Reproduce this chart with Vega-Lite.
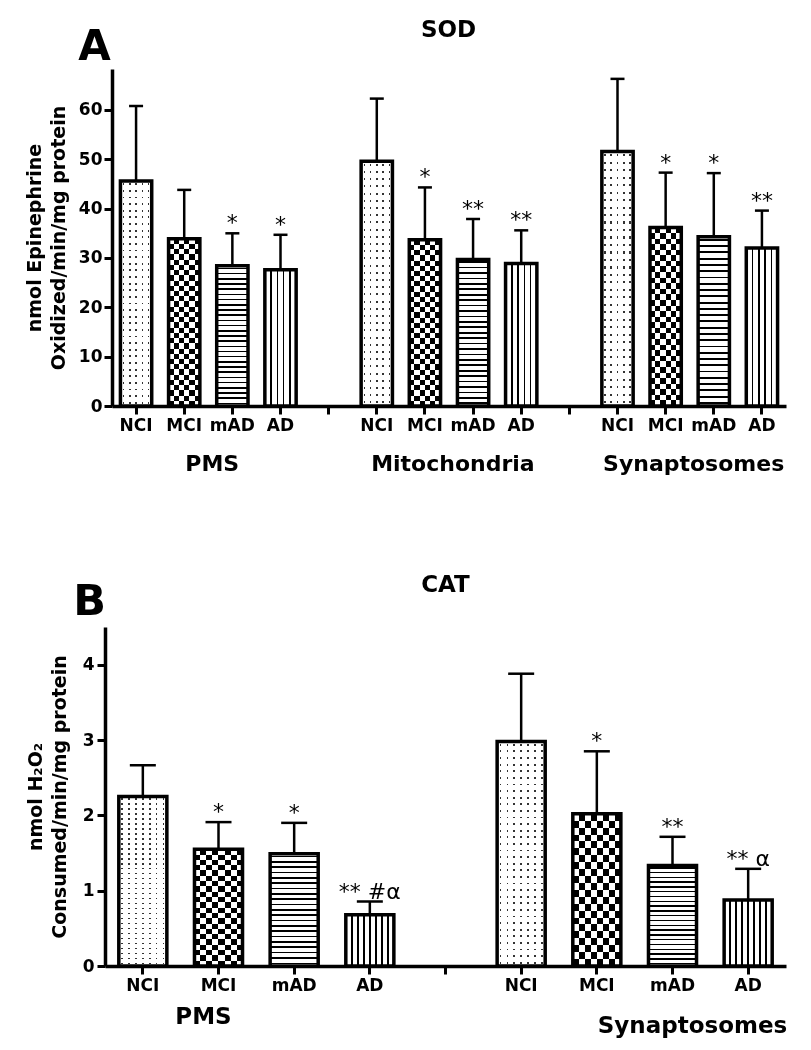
{
  "$schema": "https://vega.github.io/schema/vega-lite/v6.json",
  "background": "white",
  "padding": {"left": 25, "top": 19, "right": 10, "bottom": 8},
  "columns": 1,
  "align": "none",
  "spacing": 98,
  "config": {
    "font": "DejaVu Sans",
    "view": {"stroke": null},
    "title": {"font": "DejaVu Sans", "fontWeight": "bold", "color": "#000"},
    "axis": {
      "domainColor": "#000", "domainWidth": 3.5, "tickColor": "#000", "tickWidth": 3, "tickSize": 8,
      "labelFont": "DejaVu Sans", "labelFontWeight": "bold", "labelFontSize": 17, "labelColor": "#000",
      "titleFont": "DejaVu Sans", "titleFontWeight": "bold", "titleFontSize": 19, "titleColor": "#000",
      "grid": false
    }
  },
  "concat": [
    {
      "title": {"text": "A", "fontSize": 42, "anchor": "start", "frame": "bounds", "dx": 53, "offset": -50},
      "vconcat": [
        {
          "title": {"text": "SOD", "fontSize": 23, "anchor": "middle", "frame": "group", "offset": 27, "dx": 3},
          "width": 681,
          "height": 337,
          "data": {"values": [
            {"key": "PMS|NCI", "tissue": "PMS", "cond": "NCI", "v": 45.6, "e": 60.8, "sig": ""},
            {"key": "PMS|MCI", "tissue": "PMS", "cond": "MCI", "v": 33.9, "e": 43.8, "sig": ""},
            {"key": "PMS|mAD", "tissue": "PMS", "cond": "mAD", "v": 28.4, "e": 35.0, "sig": "*"},
            {"key": "PMS|AD", "tissue": "PMS", "cond": "AD", "v": 27.6, "e": 34.7, "sig": "*"},
            {"key": "Mito|NCI", "tissue": "Mitochondria", "cond": "NCI", "v": 49.6, "e": 62.3, "sig": ""},
            {"key": "Mito|MCI", "tissue": "Mitochondria", "cond": "MCI", "v": 33.7, "e": 44.3, "sig": "*"},
            {"key": "Mito|mAD", "tissue": "Mitochondria", "cond": "mAD", "v": 29.7, "e": 37.9, "sig": "**"},
            {"key": "Mito|AD", "tissue": "Mitochondria", "cond": "AD", "v": 28.9, "e": 35.6, "sig": "**"},
            {"key": "Syn|NCI", "tissue": "Synaptosomes", "cond": "NCI", "v": 51.6, "e": 66.3, "sig": ""},
            {"key": "Syn|MCI", "tissue": "Synaptosomes", "cond": "MCI", "v": 36.2, "e": 47.3, "sig": "*"},
            {"key": "Syn|mAD", "tissue": "Synaptosomes", "cond": "mAD", "v": 34.3, "e": 47.2, "sig": "*"},
            {"key": "Syn|AD", "tissue": "Synaptosomes", "cond": "AD", "v": 32.0, "e": 39.6, "sig": "**"}
          ]},
          "encoding": {
            "x": {"field": "key", "type": "nominal",
              "scale": {"domain": ["PMS|NCI", "PMS|MCI", "PMS|mAD", "PMS|AD", "gap1", "Mito|NCI", "Mito|MCI", "Mito|mAD", "Mito|AD", "gap2", "Syn|NCI", "Syn|MCI", "Syn|mAD", "Syn|AD"], "range": [7, 681], "paddingInner": 0.35, "paddingOuter": 0.175},
              "axis": {"title": null, "labelAngle": 0, "labelPadding": 3, "labelExpr": "indexof(datum.value, '|') > 0 ? split(datum.value, '|')[1] : ''"}},
            "y": {"field": "v", "type": "quantitative",
              "scale": {"domain": [0, 68.3], "nice": false},
              "axis": {"values": [0, 10, 20, 30, 40, 50, 60], "offset": -7, "title": ["nmol Epinephrine", "Oxidized/min/mg protein"], "titlePadding": 10, "labelPadding": 2, "titleLineHeight": 24}}
          },
          "layer": [
            {"transform": [{"filter": "datum.cond == 'NCI'"}],
             "mark": {"type": "bar", "fill": {"gradient": "linear", "x1": 0, "y1": 0, "x2": 0, "y2": 1, "stops": [
              {"offset": 0, "color": "#fff"},
              {"offset": 0.0106, "color": "#fff"}, {"offset": 0.0106, "color": "#333"}, {"offset": 0.0188, "color": "#333"}, {"offset": 0.0188, "color": "#fff"},
              {"offset": 0.0400, "color": "#fff"}, {"offset": 0.0400, "color": "#333"}, {"offset": 0.0482, "color": "#333"}, {"offset": 0.0482, "color": "#fff"},
              {"offset": 0.0694, "color": "#fff"}, {"offset": 0.0694, "color": "#333"}, {"offset": 0.0776, "color": "#333"}, {"offset": 0.0776, "color": "#fff"},
              {"offset": 0.0988, "color": "#fff"}, {"offset": 0.0988, "color": "#333"}, {"offset": 0.1071, "color": "#333"}, {"offset": 0.1071, "color": "#fff"},
              {"offset": 0.1282, "color": "#fff"}, {"offset": 0.1282, "color": "#333"}, {"offset": 0.1365, "color": "#333"}, {"offset": 0.1365, "color": "#fff"},
              {"offset": 0.1576, "color": "#fff"}, {"offset": 0.1576, "color": "#333"}, {"offset": 0.1659, "color": "#333"}, {"offset": 0.1659, "color": "#fff"},
              {"offset": 0.1871, "color": "#fff"}, {"offset": 0.1871, "color": "#333"}, {"offset": 0.1953, "color": "#333"}, {"offset": 0.1953, "color": "#fff"},
              {"offset": 0.2165, "color": "#fff"}, {"offset": 0.2165, "color": "#333"}, {"offset": 0.2247, "color": "#333"}, {"offset": 0.2247, "color": "#fff"},
              {"offset": 0.2459, "color": "#fff"}, {"offset": 0.2459, "color": "#333"}, {"offset": 0.2541, "color": "#333"}, {"offset": 0.2541, "color": "#fff"},
              {"offset": 0.2753, "color": "#fff"}, {"offset": 0.2753, "color": "#333"}, {"offset": 0.2835, "color": "#333"}, {"offset": 0.2835, "color": "#fff"},
              {"offset": 0.3047, "color": "#fff"}, {"offset": 0.3047, "color": "#333"}, {"offset": 0.3129, "color": "#333"}, {"offset": 0.3129, "color": "#fff"},
              {"offset": 0.3341, "color": "#fff"}, {"offset": 0.3341, "color": "#333"}, {"offset": 0.3424, "color": "#333"}, {"offset": 0.3424, "color": "#fff"},
              {"offset": 0.3635, "color": "#fff"}, {"offset": 0.3635, "color": "#333"}, {"offset": 0.3718, "color": "#333"}, {"offset": 0.3718, "color": "#fff"},
              {"offset": 0.3929, "color": "#fff"}, {"offset": 0.3929, "color": "#333"}, {"offset": 0.4012, "color": "#333"}, {"offset": 0.4012, "color": "#fff"},
              {"offset": 0.4224, "color": "#fff"}, {"offset": 0.4224, "color": "#333"}, {"offset": 0.4306, "color": "#333"}, {"offset": 0.4306, "color": "#fff"},
              {"offset": 0.4518, "color": "#fff"}, {"offset": 0.4518, "color": "#333"}, {"offset": 0.4600, "color": "#333"}, {"offset": 0.4600, "color": "#fff"},
              {"offset": 0.4812, "color": "#fff"}, {"offset": 0.4812, "color": "#333"}, {"offset": 0.4894, "color": "#333"}, {"offset": 0.4894, "color": "#fff"},
              {"offset": 0.5106, "color": "#fff"}, {"offset": 0.5106, "color": "#333"}, {"offset": 0.5188, "color": "#333"}, {"offset": 0.5188, "color": "#fff"},
              {"offset": 0.5400, "color": "#fff"}, {"offset": 0.5400, "color": "#333"}, {"offset": 0.5482, "color": "#333"}, {"offset": 0.5482, "color": "#fff"},
              {"offset": 0.5694, "color": "#fff"}, {"offset": 0.5694, "color": "#333"}, {"offset": 0.5776, "color": "#333"}, {"offset": 0.5776, "color": "#fff"},
              {"offset": 0.5988, "color": "#fff"}, {"offset": 0.5988, "color": "#333"}, {"offset": 0.6071, "color": "#333"}, {"offset": 0.6071, "color": "#fff"},
              {"offset": 0.6282, "color": "#fff"}, {"offset": 0.6282, "color": "#333"}, {"offset": 0.6365, "color": "#333"}, {"offset": 0.6365, "color": "#fff"},
              {"offset": 0.6576, "color": "#fff"}, {"offset": 0.6576, "color": "#333"}, {"offset": 0.6659, "color": "#333"}, {"offset": 0.6659, "color": "#fff"},
              {"offset": 0.6871, "color": "#fff"}, {"offset": 0.6871, "color": "#333"}, {"offset": 0.6953, "color": "#333"}, {"offset": 0.6953, "color": "#fff"},
              {"offset": 0.7165, "color": "#fff"}, {"offset": 0.7165, "color": "#333"}, {"offset": 0.7247, "color": "#333"}, {"offset": 0.7247, "color": "#fff"},
              {"offset": 0.7459, "color": "#fff"}, {"offset": 0.7459, "color": "#333"}, {"offset": 0.7541, "color": "#333"}, {"offset": 0.7541, "color": "#fff"},
              {"offset": 0.7753, "color": "#fff"}, {"offset": 0.7753, "color": "#333"}, {"offset": 0.7835, "color": "#333"}, {"offset": 0.7835, "color": "#fff"},
              {"offset": 0.8047, "color": "#fff"}, {"offset": 0.8047, "color": "#333"}, {"offset": 0.8129, "color": "#333"}, {"offset": 0.8129, "color": "#fff"},
              {"offset": 0.8341, "color": "#fff"}, {"offset": 0.8341, "color": "#333"}, {"offset": 0.8424, "color": "#333"}, {"offset": 0.8424, "color": "#fff"},
              {"offset": 0.8635, "color": "#fff"}, {"offset": 0.8635, "color": "#333"}, {"offset": 0.8718, "color": "#333"}, {"offset": 0.8718, "color": "#fff"},
              {"offset": 0.8929, "color": "#fff"}, {"offset": 0.8929, "color": "#333"}, {"offset": 0.9012, "color": "#333"}, {"offset": 0.9012, "color": "#fff"},
              {"offset": 0.9224, "color": "#fff"}, {"offset": 0.9224, "color": "#333"}, {"offset": 0.9306, "color": "#333"}, {"offset": 0.9306, "color": "#fff"},
              {"offset": 0.9518, "color": "#fff"}, {"offset": 0.9518, "color": "#333"}, {"offset": 0.9600, "color": "#333"}, {"offset": 0.9600, "color": "#fff"},
              {"offset": 0.9812, "color": "#fff"}, {"offset": 0.9812, "color": "#333"}, {"offset": 0.9894, "color": "#333"}, {"offset": 0.9894, "color": "#fff"},
              {"offset": 1, "color": "#fff"}]}}},
            {"transform": [{"filter": "datum.cond == 'NCI'"}],
             "mark": {"type": "bar", "blend": "lighten", "fill": {"gradient": "linear", "x1": 0, "y1": 0, "x2": 1, "y2": 0, "stops": [
              {"offset": 0, "color": "#fff"},
              {"offset": 0.076, "color": "#fff"}, {"offset": 0.076, "color": "#000"}, {"offset": 0.124, "color": "#000"}, {"offset": 0.124, "color": "#fff"},
              {"offset": 0.276, "color": "#fff"}, {"offset": 0.276, "color": "#000"}, {"offset": 0.324, "color": "#000"}, {"offset": 0.324, "color": "#fff"},
              {"offset": 0.476, "color": "#fff"}, {"offset": 0.476, "color": "#000"}, {"offset": 0.524, "color": "#000"}, {"offset": 0.524, "color": "#fff"},
              {"offset": 0.676, "color": "#fff"}, {"offset": 0.676, "color": "#000"}, {"offset": 0.724, "color": "#000"}, {"offset": 0.724, "color": "#fff"},
              {"offset": 0.876, "color": "#fff"}, {"offset": 0.876, "color": "#000"}, {"offset": 0.924, "color": "#000"}, {"offset": 0.924, "color": "#fff"},
              {"offset": 1, "color": "#fff"}]}}},
            {"transform": [{"filter": "datum.cond == 'MCI'"}],
             "mark": {"type": "bar", "fill": {"gradient": "linear", "x1": 0, "y1": 0, "x2": 0, "y2": 1, "stops": [
              {"offset": 0, "color": "#000"},
              {"offset": 0.03125, "color": "#000"}, {"offset": 0.03125, "color": "#fff"},
              {"offset": 0.0625, "color": "#fff"}, {"offset": 0.0625, "color": "#000"},
              {"offset": 0.09375, "color": "#000"}, {"offset": 0.09375, "color": "#fff"},
              {"offset": 0.125, "color": "#fff"}, {"offset": 0.125, "color": "#000"},
              {"offset": 0.15625, "color": "#000"}, {"offset": 0.15625, "color": "#fff"},
              {"offset": 0.1875, "color": "#fff"}, {"offset": 0.1875, "color": "#000"},
              {"offset": 0.21875, "color": "#000"}, {"offset": 0.21875, "color": "#fff"},
              {"offset": 0.25, "color": "#fff"}, {"offset": 0.25, "color": "#000"},
              {"offset": 0.28125, "color": "#000"}, {"offset": 0.28125, "color": "#fff"},
              {"offset": 0.3125, "color": "#fff"}, {"offset": 0.3125, "color": "#000"},
              {"offset": 0.34375, "color": "#000"}, {"offset": 0.34375, "color": "#fff"},
              {"offset": 0.375, "color": "#fff"}, {"offset": 0.375, "color": "#000"},
              {"offset": 0.40625, "color": "#000"}, {"offset": 0.40625, "color": "#fff"},
              {"offset": 0.4375, "color": "#fff"}, {"offset": 0.4375, "color": "#000"},
              {"offset": 0.46875, "color": "#000"}, {"offset": 0.46875, "color": "#fff"},
              {"offset": 0.5, "color": "#fff"}, {"offset": 0.5, "color": "#000"},
              {"offset": 0.53125, "color": "#000"}, {"offset": 0.53125, "color": "#fff"},
              {"offset": 0.5625, "color": "#fff"}, {"offset": 0.5625, "color": "#000"},
              {"offset": 0.59375, "color": "#000"}, {"offset": 0.59375, "color": "#fff"},
              {"offset": 0.625, "color": "#fff"}, {"offset": 0.625, "color": "#000"},
              {"offset": 0.65625, "color": "#000"}, {"offset": 0.65625, "color": "#fff"},
              {"offset": 0.6875, "color": "#fff"}, {"offset": 0.6875, "color": "#000"},
              {"offset": 0.71875, "color": "#000"}, {"offset": 0.71875, "color": "#fff"},
              {"offset": 0.75, "color": "#fff"}, {"offset": 0.75, "color": "#000"},
              {"offset": 0.78125, "color": "#000"}, {"offset": 0.78125, "color": "#fff"},
              {"offset": 0.8125, "color": "#fff"}, {"offset": 0.8125, "color": "#000"},
              {"offset": 0.84375, "color": "#000"}, {"offset": 0.84375, "color": "#fff"},
              {"offset": 0.875, "color": "#fff"}, {"offset": 0.875, "color": "#000"},
              {"offset": 0.90625, "color": "#000"}, {"offset": 0.90625, "color": "#fff"},
              {"offset": 0.9375, "color": "#fff"}, {"offset": 0.9375, "color": "#000"},
              {"offset": 0.96875, "color": "#000"}, {"offset": 0.96875, "color": "#fff"},
              {"offset": 1, "color": "#fff"}]}}},
            {"transform": [{"filter": "datum.cond == 'MCI'"}],
             "mark": {"type": "bar", "blend": "difference", "fill": {"gradient": "linear", "x1": 0, "y1": 0, "x2": 1, "y2": 0, "stops": [
              {"offset": 0, "color": "#fff"},
              {"offset": 0.1667, "color": "#fff"}, {"offset": 0.1667, "color": "#000"},
              {"offset": 0.3333, "color": "#000"}, {"offset": 0.3333, "color": "#fff"},
              {"offset": 0.5, "color": "#fff"}, {"offset": 0.5, "color": "#000"},
              {"offset": 0.6667, "color": "#000"}, {"offset": 0.6667, "color": "#fff"},
              {"offset": 0.8333, "color": "#fff"}, {"offset": 0.8333, "color": "#000"},
              {"offset": 1, "color": "#000"}]}}},
            {"transform": [{"filter": "datum.cond == 'mAD'"}],
             "mark": {"type": "bar", "fill": {"gradient": "linear", "x1": 0, "y1": 0, "x2": 0, "y2": 1, "stops": [
              {"offset": 0, "color": "#fff"},
              {"offset": 0.0130, "color": "#fff"}, {"offset": 0.0130, "color": "#000"}, {"offset": 0.0241, "color": "#000"}, {"offset": 0.0241, "color": "#fff"},
              {"offset": 0.0500, "color": "#fff"}, {"offset": 0.0500, "color": "#000"}, {"offset": 0.0611, "color": "#000"}, {"offset": 0.0611, "color": "#fff"},
              {"offset": 0.0870, "color": "#fff"}, {"offset": 0.0870, "color": "#000"}, {"offset": 0.0981, "color": "#000"}, {"offset": 0.0981, "color": "#fff"},
              {"offset": 0.1241, "color": "#fff"}, {"offset": 0.1241, "color": "#000"}, {"offset": 0.1352, "color": "#000"}, {"offset": 0.1352, "color": "#fff"},
              {"offset": 0.1611, "color": "#fff"}, {"offset": 0.1611, "color": "#000"}, {"offset": 0.1722, "color": "#000"}, {"offset": 0.1722, "color": "#fff"},
              {"offset": 0.1981, "color": "#fff"}, {"offset": 0.1981, "color": "#000"}, {"offset": 0.2093, "color": "#000"}, {"offset": 0.2093, "color": "#fff"},
              {"offset": 0.2352, "color": "#fff"}, {"offset": 0.2352, "color": "#000"}, {"offset": 0.2463, "color": "#000"}, {"offset": 0.2463, "color": "#fff"},
              {"offset": 0.2722, "color": "#fff"}, {"offset": 0.2722, "color": "#000"}, {"offset": 0.2833, "color": "#000"}, {"offset": 0.2833, "color": "#fff"},
              {"offset": 0.3093, "color": "#fff"}, {"offset": 0.3093, "color": "#000"}, {"offset": 0.3204, "color": "#000"}, {"offset": 0.3204, "color": "#fff"},
              {"offset": 0.3463, "color": "#fff"}, {"offset": 0.3463, "color": "#000"}, {"offset": 0.3574, "color": "#000"}, {"offset": 0.3574, "color": "#fff"},
              {"offset": 0.3833, "color": "#fff"}, {"offset": 0.3833, "color": "#000"}, {"offset": 0.3944, "color": "#000"}, {"offset": 0.3944, "color": "#fff"},
              {"offset": 0.4204, "color": "#fff"}, {"offset": 0.4204, "color": "#000"}, {"offset": 0.4315, "color": "#000"}, {"offset": 0.4315, "color": "#fff"},
              {"offset": 0.4574, "color": "#fff"}, {"offset": 0.4574, "color": "#000"}, {"offset": 0.4685, "color": "#000"}, {"offset": 0.4685, "color": "#fff"},
              {"offset": 0.4944, "color": "#fff"}, {"offset": 0.4944, "color": "#000"}, {"offset": 0.5056, "color": "#000"}, {"offset": 0.5056, "color": "#fff"},
              {"offset": 0.5315, "color": "#fff"}, {"offset": 0.5315, "color": "#000"}, {"offset": 0.5426, "color": "#000"}, {"offset": 0.5426, "color": "#fff"},
              {"offset": 0.5685, "color": "#fff"}, {"offset": 0.5685, "color": "#000"}, {"offset": 0.5796, "color": "#000"}, {"offset": 0.5796, "color": "#fff"},
              {"offset": 0.6056, "color": "#fff"}, {"offset": 0.6056, "color": "#000"}, {"offset": 0.6167, "color": "#000"}, {"offset": 0.6167, "color": "#fff"},
              {"offset": 0.6426, "color": "#fff"}, {"offset": 0.6426, "color": "#000"}, {"offset": 0.6537, "color": "#000"}, {"offset": 0.6537, "color": "#fff"},
              {"offset": 0.6796, "color": "#fff"}, {"offset": 0.6796, "color": "#000"}, {"offset": 0.6907, "color": "#000"}, {"offset": 0.6907, "color": "#fff"},
              {"offset": 0.7167, "color": "#fff"}, {"offset": 0.7167, "color": "#000"}, {"offset": 0.7278, "color": "#000"}, {"offset": 0.7278, "color": "#fff"},
              {"offset": 0.7537, "color": "#fff"}, {"offset": 0.7537, "color": "#000"}, {"offset": 0.7648, "color": "#000"}, {"offset": 0.7648, "color": "#fff"},
              {"offset": 0.7907, "color": "#fff"}, {"offset": 0.7907, "color": "#000"}, {"offset": 0.8019, "color": "#000"}, {"offset": 0.8019, "color": "#fff"},
              {"offset": 0.8278, "color": "#fff"}, {"offset": 0.8278, "color": "#000"}, {"offset": 0.8389, "color": "#000"}, {"offset": 0.8389, "color": "#fff"},
              {"offset": 0.8648, "color": "#fff"}, {"offset": 0.8648, "color": "#000"}, {"offset": 0.8759, "color": "#000"}, {"offset": 0.8759, "color": "#fff"},
              {"offset": 0.9019, "color": "#fff"}, {"offset": 0.9019, "color": "#000"}, {"offset": 0.9130, "color": "#000"}, {"offset": 0.9130, "color": "#fff"},
              {"offset": 0.9389, "color": "#fff"}, {"offset": 0.9389, "color": "#000"}, {"offset": 0.9500, "color": "#000"}, {"offset": 0.9500, "color": "#fff"},
              {"offset": 0.9759, "color": "#fff"}, {"offset": 0.9759, "color": "#000"}, {"offset": 0.9870, "color": "#000"}, {"offset": 0.9870, "color": "#fff"},
              {"offset": 1, "color": "#fff"}]}}},
            {"transform": [{"filter": "datum.cond == 'AD'"}],
             "mark": {"type": "bar", "fill": {"gradient": "linear", "x1": 0, "y1": 0, "x2": 1, "y2": 0, "stops": [
              {"offset": 0, "color": "#fff"},
              {"offset": 0.176, "color": "#fff"}, {"offset": 0.176, "color": "#000"}, {"offset": 0.224, "color": "#000"}, {"offset": 0.224, "color": "#fff"},
              {"offset": 0.376, "color": "#fff"}, {"offset": 0.376, "color": "#000"}, {"offset": 0.424, "color": "#000"}, {"offset": 0.424, "color": "#fff"},
              {"offset": 0.576, "color": "#fff"}, {"offset": 0.576, "color": "#000"}, {"offset": 0.624, "color": "#000"}, {"offset": 0.624, "color": "#fff"},
              {"offset": 0.776, "color": "#fff"}, {"offset": 0.776, "color": "#000"}, {"offset": 0.824, "color": "#000"}, {"offset": 0.824, "color": "#fff"},
              {"offset": 1, "color": "#fff"}]}}},
            {"mark": {"type": "bar", "fill": "#fff", "fillOpacity": 0, "stroke": "#000", "strokeWidth": 3.5}},
            {"mark": {"type": "rule", "stroke": "#000", "strokeWidth": 2.5},
             "encoding": {"y": {"field": "v", "type": "quantitative"}, "y2": {"field": "e"}}},
            {"mark": {"type": "tick", "color": "#000", "size": 14, "thickness": 2.5, "opacity": 1},
             "encoding": {"y": {"field": "e", "type": "quantitative"}}},
            {"transform": [{"filter": "datum.sig != ''"}],
             "mark": {"type": "text", "font": "DejaVu Sans", "fontSize": 22, "baseline": "alphabetic", "dy": -3, "color": "#000"},
             "encoding": {"y": {"field": "e", "type": "quantitative"}, "text": {"field": "sig"}}},
            {"transform": [{"filter": "datum.cond == 'MCI'"}],
             "mark": {"type": "text", "font": "DejaVu Sans", "fontWeight": "bold", "fontSize": 22, "baseline": "alphabetic", "dx": 28, "color": "#000"},
             "encoding": {"y": {"datum": -13.2, "type": "quantitative"}, "text": {"field": "tissue"}}}
          ]
        }
      ]
    },
    {
      "title": {"text": "B", "fontSize": 43, "anchor": "start", "frame": "bounds", "dx": 47, "offset": -50},
      "vconcat": [
        {
          "title": {"text": "CAT", "fontSize": 23, "anchor": "middle", "frame": "group", "offset": 30},
          "width": 681,
          "height": 339,
          "data": {"values": [
            {"key": "PMS|NCI", "tissue": "PMS", "cond": "NCI", "v": 2.25, "e": 2.665, "sig": ""},
            {"key": "PMS|MCI", "tissue": "PMS", "cond": "MCI", "v": 1.55, "e": 1.91, "sig": "*"},
            {"key": "PMS|mAD", "tissue": "PMS", "cond": "mAD", "v": 1.49, "e": 1.90, "sig": "*"},
            {"key": "PMS|AD", "tissue": "PMS", "cond": "AD", "v": 0.68, "e": 0.855, "sig": "** #α"},
            {"key": "Syn|NCI", "tissue": "Synaptosomes", "cond": "NCI", "v": 2.98, "e": 3.88, "sig": ""},
            {"key": "Syn|MCI", "tissue": "Synaptosomes", "cond": "MCI", "v": 2.02, "e": 2.85, "sig": "*"},
            {"key": "Syn|mAD", "tissue": "Synaptosomes", "cond": "mAD", "v": 1.335, "e": 1.715, "sig": "**"},
            {"key": "Syn|AD", "tissue": "Synaptosomes", "cond": "AD", "v": 0.875, "e": 1.29, "sig": "** α"}
          ]},
          "encoding": {
            "x": {"field": "key", "type": "nominal",
              "scale": {"domain": ["PMS|NCI", "PMS|MCI", "PMS|mAD", "PMS|AD", "gap1", "Syn|NCI", "Syn|MCI", "Syn|mAD", "Syn|AD"], "paddingInner": 0.365, "paddingOuter": 0.1825},
              "axis": {"title": null, "labelAngle": 0, "labelPadding": 3, "labelExpr": "indexof(datum.value, '|') > 0 ? split(datum.value, '|')[1] : ''"}},
            "y": {"field": "v", "type": "quantitative",
              "scale": {"domain": [0, 4.5], "nice": false},
              "axis": {"values": [0, 1, 2, 3, 4], "title": ["nmol H₂O₂", "Consumed/min/mg protein"], "titlePadding": 13, "labelPadding": 3, "titleLineHeight": 24}}
          },
          "layer": [
            {"transform": [{"filter": "datum.cond == 'NCI'"}],
             "mark": {"type": "bar", "fill": {"gradient": "linear", "x1": 0, "y1": 0, "x2": 0, "y2": 1, "stops": [
              {"offset": 0, "color": "#fff"},
              {"offset": 0.0106, "color": "#fff"}, {"offset": 0.0106, "color": "#333"}, {"offset": 0.0188, "color": "#333"}, {"offset": 0.0188, "color": "#fff"},
              {"offset": 0.0400, "color": "#fff"}, {"offset": 0.0400, "color": "#333"}, {"offset": 0.0482, "color": "#333"}, {"offset": 0.0482, "color": "#fff"},
              {"offset": 0.0694, "color": "#fff"}, {"offset": 0.0694, "color": "#333"}, {"offset": 0.0776, "color": "#333"}, {"offset": 0.0776, "color": "#fff"},
              {"offset": 0.0988, "color": "#fff"}, {"offset": 0.0988, "color": "#333"}, {"offset": 0.1071, "color": "#333"}, {"offset": 0.1071, "color": "#fff"},
              {"offset": 0.1282, "color": "#fff"}, {"offset": 0.1282, "color": "#333"}, {"offset": 0.1365, "color": "#333"}, {"offset": 0.1365, "color": "#fff"},
              {"offset": 0.1576, "color": "#fff"}, {"offset": 0.1576, "color": "#333"}, {"offset": 0.1659, "color": "#333"}, {"offset": 0.1659, "color": "#fff"},
              {"offset": 0.1871, "color": "#fff"}, {"offset": 0.1871, "color": "#333"}, {"offset": 0.1953, "color": "#333"}, {"offset": 0.1953, "color": "#fff"},
              {"offset": 0.2165, "color": "#fff"}, {"offset": 0.2165, "color": "#333"}, {"offset": 0.2247, "color": "#333"}, {"offset": 0.2247, "color": "#fff"},
              {"offset": 0.2459, "color": "#fff"}, {"offset": 0.2459, "color": "#333"}, {"offset": 0.2541, "color": "#333"}, {"offset": 0.2541, "color": "#fff"},
              {"offset": 0.2753, "color": "#fff"}, {"offset": 0.2753, "color": "#333"}, {"offset": 0.2835, "color": "#333"}, {"offset": 0.2835, "color": "#fff"},
              {"offset": 0.3047, "color": "#fff"}, {"offset": 0.3047, "color": "#333"}, {"offset": 0.3129, "color": "#333"}, {"offset": 0.3129, "color": "#fff"},
              {"offset": 0.3341, "color": "#fff"}, {"offset": 0.3341, "color": "#333"}, {"offset": 0.3424, "color": "#333"}, {"offset": 0.3424, "color": "#fff"},
              {"offset": 0.3635, "color": "#fff"}, {"offset": 0.3635, "color": "#333"}, {"offset": 0.3718, "color": "#333"}, {"offset": 0.3718, "color": "#fff"},
              {"offset": 0.3929, "color": "#fff"}, {"offset": 0.3929, "color": "#333"}, {"offset": 0.4012, "color": "#333"}, {"offset": 0.4012, "color": "#fff"},
              {"offset": 0.4224, "color": "#fff"}, {"offset": 0.4224, "color": "#333"}, {"offset": 0.4306, "color": "#333"}, {"offset": 0.4306, "color": "#fff"},
              {"offset": 0.4518, "color": "#fff"}, {"offset": 0.4518, "color": "#333"}, {"offset": 0.4600, "color": "#333"}, {"offset": 0.4600, "color": "#fff"},
              {"offset": 0.4812, "color": "#fff"}, {"offset": 0.4812, "color": "#333"}, {"offset": 0.4894, "color": "#333"}, {"offset": 0.4894, "color": "#fff"},
              {"offset": 0.5106, "color": "#fff"}, {"offset": 0.5106, "color": "#333"}, {"offset": 0.5188, "color": "#333"}, {"offset": 0.5188, "color": "#fff"},
              {"offset": 0.5400, "color": "#fff"}, {"offset": 0.5400, "color": "#333"}, {"offset": 0.5482, "color": "#333"}, {"offset": 0.5482, "color": "#fff"},
              {"offset": 0.5694, "color": "#fff"}, {"offset": 0.5694, "color": "#333"}, {"offset": 0.5776, "color": "#333"}, {"offset": 0.5776, "color": "#fff"},
              {"offset": 0.5988, "color": "#fff"}, {"offset": 0.5988, "color": "#333"}, {"offset": 0.6071, "color": "#333"}, {"offset": 0.6071, "color": "#fff"},
              {"offset": 0.6282, "color": "#fff"}, {"offset": 0.6282, "color": "#333"}, {"offset": 0.6365, "color": "#333"}, {"offset": 0.6365, "color": "#fff"},
              {"offset": 0.6576, "color": "#fff"}, {"offset": 0.6576, "color": "#333"}, {"offset": 0.6659, "color": "#333"}, {"offset": 0.6659, "color": "#fff"},
              {"offset": 0.6871, "color": "#fff"}, {"offset": 0.6871, "color": "#333"}, {"offset": 0.6953, "color": "#333"}, {"offset": 0.6953, "color": "#fff"},
              {"offset": 0.7165, "color": "#fff"}, {"offset": 0.7165, "color": "#333"}, {"offset": 0.7247, "color": "#333"}, {"offset": 0.7247, "color": "#fff"},
              {"offset": 0.7459, "color": "#fff"}, {"offset": 0.7459, "color": "#333"}, {"offset": 0.7541, "color": "#333"}, {"offset": 0.7541, "color": "#fff"},
              {"offset": 0.7753, "color": "#fff"}, {"offset": 0.7753, "color": "#333"}, {"offset": 0.7835, "color": "#333"}, {"offset": 0.7835, "color": "#fff"},
              {"offset": 0.8047, "color": "#fff"}, {"offset": 0.8047, "color": "#333"}, {"offset": 0.8129, "color": "#333"}, {"offset": 0.8129, "color": "#fff"},
              {"offset": 0.8341, "color": "#fff"}, {"offset": 0.8341, "color": "#333"}, {"offset": 0.8424, "color": "#333"}, {"offset": 0.8424, "color": "#fff"},
              {"offset": 0.8635, "color": "#fff"}, {"offset": 0.8635, "color": "#333"}, {"offset": 0.8718, "color": "#333"}, {"offset": 0.8718, "color": "#fff"},
              {"offset": 0.8929, "color": "#fff"}, {"offset": 0.8929, "color": "#333"}, {"offset": 0.9012, "color": "#333"}, {"offset": 0.9012, "color": "#fff"},
              {"offset": 0.9224, "color": "#fff"}, {"offset": 0.9224, "color": "#333"}, {"offset": 0.9306, "color": "#333"}, {"offset": 0.9306, "color": "#fff"},
              {"offset": 0.9518, "color": "#fff"}, {"offset": 0.9518, "color": "#333"}, {"offset": 0.9600, "color": "#333"}, {"offset": 0.9600, "color": "#fff"},
              {"offset": 0.9812, "color": "#fff"}, {"offset": 0.9812, "color": "#333"}, {"offset": 0.9894, "color": "#333"}, {"offset": 0.9894, "color": "#fff"},
              {"offset": 1, "color": "#fff"}]}}},
            {"transform": [{"filter": "datum.cond == 'NCI'"}],
             "mark": {"type": "bar", "blend": "lighten", "fill": {"gradient": "linear", "x1": 0, "y1": 0, "x2": 1, "y2": 0, "stops": [
              {"offset": 0, "color": "#fff"},
              {"offset": 0.0543, "color": "#fff"}, {"offset": 0.0543, "color": "#000"}, {"offset": 0.0886, "color": "#000"}, {"offset": 0.0886, "color": "#fff"},
              {"offset": 0.1971, "color": "#fff"}, {"offset": 0.1971, "color": "#000"}, {"offset": 0.2314, "color": "#000"}, {"offset": 0.2314, "color": "#fff"},
              {"offset": 0.3400, "color": "#fff"}, {"offset": 0.3400, "color": "#000"}, {"offset": 0.3743, "color": "#000"}, {"offset": 0.3743, "color": "#fff"},
              {"offset": 0.4829, "color": "#fff"}, {"offset": 0.4829, "color": "#000"}, {"offset": 0.5171, "color": "#000"}, {"offset": 0.5171, "color": "#fff"},
              {"offset": 0.6257, "color": "#fff"}, {"offset": 0.6257, "color": "#000"}, {"offset": 0.6600, "color": "#000"}, {"offset": 0.6600, "color": "#fff"},
              {"offset": 0.7686, "color": "#fff"}, {"offset": 0.7686, "color": "#000"}, {"offset": 0.8029, "color": "#000"}, {"offset": 0.8029, "color": "#fff"},
              {"offset": 0.9114, "color": "#fff"}, {"offset": 0.9114, "color": "#000"}, {"offset": 0.9457, "color": "#000"}, {"offset": 0.9457, "color": "#fff"},
              {"offset": 1, "color": "#fff"}]}}},
            {"transform": [{"filter": "datum.cond == 'MCI'"}],
             "mark": {"type": "bar", "fill": {"gradient": "linear", "x1": 0, "y1": 0, "x2": 0, "y2": 1, "stops": [
              {"offset": 0, "color": "#000"},
              {"offset": 0.04545, "color": "#000"}, {"offset": 0.04545, "color": "#fff"},
              {"offset": 0.09091, "color": "#fff"}, {"offset": 0.09091, "color": "#000"},
              {"offset": 0.13636, "color": "#000"}, {"offset": 0.13636, "color": "#fff"},
              {"offset": 0.18182, "color": "#fff"}, {"offset": 0.18182, "color": "#000"},
              {"offset": 0.22727, "color": "#000"}, {"offset": 0.22727, "color": "#fff"},
              {"offset": 0.27273, "color": "#fff"}, {"offset": 0.27273, "color": "#000"},
              {"offset": 0.31818, "color": "#000"}, {"offset": 0.31818, "color": "#fff"},
              {"offset": 0.36364, "color": "#fff"}, {"offset": 0.36364, "color": "#000"},
              {"offset": 0.40909, "color": "#000"}, {"offset": 0.40909, "color": "#fff"},
              {"offset": 0.45455, "color": "#fff"}, {"offset": 0.45455, "color": "#000"},
              {"offset": 0.5, "color": "#000"}, {"offset": 0.5, "color": "#fff"},
              {"offset": 0.54545, "color": "#fff"}, {"offset": 0.54545, "color": "#000"},
              {"offset": 0.59091, "color": "#000"}, {"offset": 0.59091, "color": "#fff"},
              {"offset": 0.63636, "color": "#fff"}, {"offset": 0.63636, "color": "#000"},
              {"offset": 0.68182, "color": "#000"}, {"offset": 0.68182, "color": "#fff"},
              {"offset": 0.72727, "color": "#fff"}, {"offset": 0.72727, "color": "#000"},
              {"offset": 0.77273, "color": "#000"}, {"offset": 0.77273, "color": "#fff"},
              {"offset": 0.81818, "color": "#fff"}, {"offset": 0.81818, "color": "#000"},
              {"offset": 0.86364, "color": "#000"}, {"offset": 0.86364, "color": "#fff"},
              {"offset": 0.90909, "color": "#fff"}, {"offset": 0.90909, "color": "#000"},
              {"offset": 0.95455, "color": "#000"}, {"offset": 0.95455, "color": "#fff"},
              {"offset": 1, "color": "#fff"}]}}},
            {"transform": [{"filter": "datum.cond == 'MCI'"}],
             "mark": {"type": "bar", "blend": "difference", "fill": {"gradient": "linear", "x1": 0, "y1": 0, "x2": 1, "y2": 0, "stops": [
              {"offset": 0, "color": "#fff"},
              {"offset": 0.125, "color": "#fff"}, {"offset": 0.125, "color": "#000"},
              {"offset": 0.25, "color": "#000"}, {"offset": 0.25, "color": "#fff"},
              {"offset": 0.375, "color": "#fff"}, {"offset": 0.375, "color": "#000"},
              {"offset": 0.5, "color": "#000"}, {"offset": 0.5, "color": "#fff"},
              {"offset": 0.625, "color": "#fff"}, {"offset": 0.625, "color": "#000"},
              {"offset": 0.75, "color": "#000"}, {"offset": 0.75, "color": "#fff"},
              {"offset": 0.875, "color": "#fff"}, {"offset": 0.875, "color": "#000"},
              {"offset": 1, "color": "#000"}]}}},
            {"transform": [{"filter": "datum.cond == 'mAD'"}],
             "mark": {"type": "bar", "fill": {"gradient": "linear", "x1": 0, "y1": 0, "x2": 0, "y2": 1, "stops": [
              {"offset": 0, "color": "#fff"},
              {"offset": 0.0167, "color": "#fff"}, {"offset": 0.0167, "color": "#000"}, {"offset": 0.0310, "color": "#000"}, {"offset": 0.0310, "color": "#fff"},
              {"offset": 0.0643, "color": "#fff"}, {"offset": 0.0643, "color": "#000"}, {"offset": 0.0786, "color": "#000"}, {"offset": 0.0786, "color": "#fff"},
              {"offset": 0.1119, "color": "#fff"}, {"offset": 0.1119, "color": "#000"}, {"offset": 0.1262, "color": "#000"}, {"offset": 0.1262, "color": "#fff"},
              {"offset": 0.1595, "color": "#fff"}, {"offset": 0.1595, "color": "#000"}, {"offset": 0.1738, "color": "#000"}, {"offset": 0.1738, "color": "#fff"},
              {"offset": 0.2071, "color": "#fff"}, {"offset": 0.2071, "color": "#000"}, {"offset": 0.2214, "color": "#000"}, {"offset": 0.2214, "color": "#fff"},
              {"offset": 0.2548, "color": "#fff"}, {"offset": 0.2548, "color": "#000"}, {"offset": 0.2690, "color": "#000"}, {"offset": 0.2690, "color": "#fff"},
              {"offset": 0.3024, "color": "#fff"}, {"offset": 0.3024, "color": "#000"}, {"offset": 0.3167, "color": "#000"}, {"offset": 0.3167, "color": "#fff"},
              {"offset": 0.3500, "color": "#fff"}, {"offset": 0.3500, "color": "#000"}, {"offset": 0.3643, "color": "#000"}, {"offset": 0.3643, "color": "#fff"},
              {"offset": 0.3976, "color": "#fff"}, {"offset": 0.3976, "color": "#000"}, {"offset": 0.4119, "color": "#000"}, {"offset": 0.4119, "color": "#fff"},
              {"offset": 0.4452, "color": "#fff"}, {"offset": 0.4452, "color": "#000"}, {"offset": 0.4595, "color": "#000"}, {"offset": 0.4595, "color": "#fff"},
              {"offset": 0.4929, "color": "#fff"}, {"offset": 0.4929, "color": "#000"}, {"offset": 0.5071, "color": "#000"}, {"offset": 0.5071, "color": "#fff"},
              {"offset": 0.5405, "color": "#fff"}, {"offset": 0.5405, "color": "#000"}, {"offset": 0.5548, "color": "#000"}, {"offset": 0.5548, "color": "#fff"},
              {"offset": 0.5881, "color": "#fff"}, {"offset": 0.5881, "color": "#000"}, {"offset": 0.6024, "color": "#000"}, {"offset": 0.6024, "color": "#fff"},
              {"offset": 0.6357, "color": "#fff"}, {"offset": 0.6357, "color": "#000"}, {"offset": 0.6500, "color": "#000"}, {"offset": 0.6500, "color": "#fff"},
              {"offset": 0.6833, "color": "#fff"}, {"offset": 0.6833, "color": "#000"}, {"offset": 0.6976, "color": "#000"}, {"offset": 0.6976, "color": "#fff"},
              {"offset": 0.7310, "color": "#fff"}, {"offset": 0.7310, "color": "#000"}, {"offset": 0.7452, "color": "#000"}, {"offset": 0.7452, "color": "#fff"},
              {"offset": 0.7786, "color": "#fff"}, {"offset": 0.7786, "color": "#000"}, {"offset": 0.7929, "color": "#000"}, {"offset": 0.7929, "color": "#fff"},
              {"offset": 0.8262, "color": "#fff"}, {"offset": 0.8262, "color": "#000"}, {"offset": 0.8405, "color": "#000"}, {"offset": 0.8405, "color": "#fff"},
              {"offset": 0.8738, "color": "#fff"}, {"offset": 0.8738, "color": "#000"}, {"offset": 0.8881, "color": "#000"}, {"offset": 0.8881, "color": "#fff"},
              {"offset": 0.9214, "color": "#fff"}, {"offset": 0.9214, "color": "#000"}, {"offset": 0.9357, "color": "#000"}, {"offset": 0.9357, "color": "#fff"},
              {"offset": 0.9690, "color": "#fff"}, {"offset": 0.9690, "color": "#000"}, {"offset": 0.9833, "color": "#000"}, {"offset": 0.9833, "color": "#fff"},
              {"offset": 1, "color": "#fff"}]}}},
            {"transform": [{"filter": "datum.cond == 'AD'"}],
             "mark": {"type": "bar", "fill": {"gradient": "linear", "x1": 0, "y1": 0, "x2": 1, "y2": 0, "stops": [
              {"offset": 0, "color": "#fff"},
              {"offset": 0.109, "color": "#fff"}, {"offset": 0.109, "color": "#000"}, {"offset": 0.141, "color": "#000"}, {"offset": 0.141, "color": "#fff"},
              {"offset": 0.234, "color": "#fff"}, {"offset": 0.234, "color": "#000"}, {"offset": 0.266, "color": "#000"}, {"offset": 0.266, "color": "#fff"},
              {"offset": 0.359, "color": "#fff"}, {"offset": 0.359, "color": "#000"}, {"offset": 0.391, "color": "#000"}, {"offset": 0.391, "color": "#fff"},
              {"offset": 0.484, "color": "#fff"}, {"offset": 0.484, "color": "#000"}, {"offset": 0.516, "color": "#000"}, {"offset": 0.516, "color": "#fff"},
              {"offset": 0.609, "color": "#fff"}, {"offset": 0.609, "color": "#000"}, {"offset": 0.641, "color": "#000"}, {"offset": 0.641, "color": "#fff"},
              {"offset": 0.734, "color": "#fff"}, {"offset": 0.734, "color": "#000"}, {"offset": 0.766, "color": "#000"}, {"offset": 0.766, "color": "#fff"},
              {"offset": 0.859, "color": "#fff"}, {"offset": 0.859, "color": "#000"}, {"offset": 0.891, "color": "#000"}, {"offset": 0.891, "color": "#fff"},
              {"offset": 1, "color": "#fff"}]}}},
            {"mark": {"type": "bar", "fill": "#fff", "fillOpacity": 0, "stroke": "#000", "strokeWidth": 3.5}},
            {"mark": {"type": "rule", "stroke": "#000", "strokeWidth": 2.5},
             "encoding": {"y": {"field": "v", "type": "quantitative"}, "y2": {"field": "e"}}},
            {"mark": {"type": "tick", "color": "#000", "size": 26, "thickness": 2.5, "opacity": 1},
             "encoding": {"y": {"field": "e", "type": "quantitative"}}},
            {"transform": [{"filter": "datum.sig != ''"}],
             "mark": {"type": "text", "font": "DejaVu Sans", "fontSize": 22, "baseline": "alphabetic", "dy": -3, "color": "#000"},
             "encoding": {"y": {"field": "e", "type": "quantitative"}, "text": {"field": "sig"}}},
            {"transform": [{"filter": "datum.key == 'PMS|MCI'"}],
             "mark": {"type": "text", "font": "DejaVu Sans", "fontWeight": "bold", "fontSize": 23, "baseline": "alphabetic", "dx": -15, "color": "#000"},
             "encoding": {"y": {"datum": -0.77, "type": "quantitative"}, "text": {"field": "tissue"}}},
            {"transform": [{"filter": "datum.key == 'Syn|mAD'"}],
             "mark": {"type": "text", "font": "DejaVu Sans", "fontWeight": "bold", "fontSize": 23, "baseline": "alphabetic", "dx": 20, "color": "#000"},
             "encoding": {"y": {"datum": -0.89, "type": "quantitative"}, "text": {"field": "tissue"}}}
          ]
        }
      ]
    }
  ]
}
